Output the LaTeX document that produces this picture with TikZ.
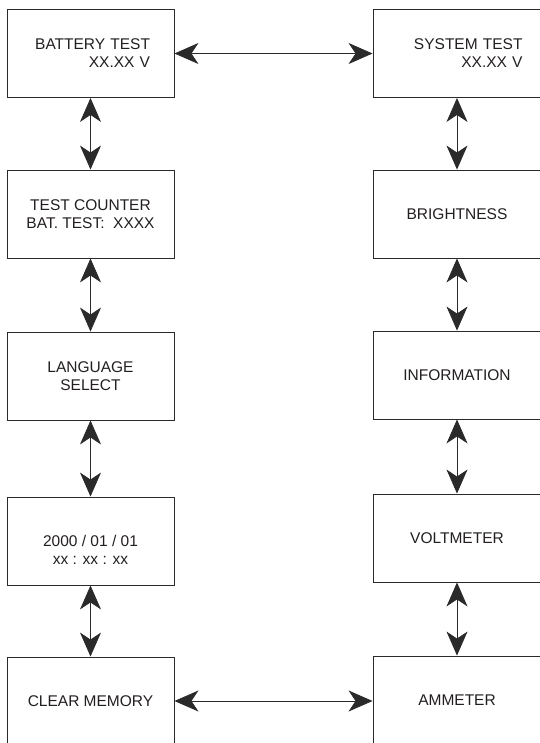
\documentclass[tikz,border=0pt]{standalone}
\usepackage{fontspec}
\setmainfont{Liberation Sans}
\usepackage{tikz}
\usetikzlibrary{arrows.meta,positioning,calc}
\definecolor{mnline}{HTML}{2a2a2a}
\definecolor{mntext}{HTML}{231f20}

\begin{document}
\begin{tikzpicture}[
  x=1bp, y=-1bp,
  font=\fontsize{15.5bp}{18bp}\selectfont,
  menu/.style={draw=mnline, line width=0.9bp, text=mntext, align=center,
               minimum width=167bp, minimum height=88bp, inner sep=0pt},
  link/.style={<->, mnline, line width=0.8bp},
  >={Stealth[length=24bp, width=21bp, inset=7bp]}]
\useasboundingbox (0,0) rectangle (540,743);

% ---------------- Left column ----------------
\node[menu, align=right, text width=119bp] (bat)  at (90.5, 53.5) {BATTERY TEST\\XX.XX V};
\node[menu] (cnt)  at (90.5, 214) {TEST COUNTER\\BAT. TEST:\ \ XXXX};
\node[menu] (lang) at (90.5, 376) {LANGUAGE\\SELECT};
\node[menu] (date) at (90.5, 541) {\rule{0pt}{29bp}2000 / 01 / 01\\xx : xx : xx};
\node[menu] (clr)  at (90.5, 701) {CLEAR MEMORY};

% ---------------- Right column ----------------
\node[menu, minimum width=168bp, align=right, text width=131bp] (sys) at (457, 53.5) {SYSTEM TEST\\XX.XX V};
\node[menu, minimum width=168bp] (bri) at (457, 214) {BRIGHTNESS};
\node[menu, minimum width=168bp] (inf) at (457, 375) {INFORMATION};
\node[menu, minimum width=168bp] (vlt) at (457, 538) {VOLTMETER};
\node[menu, minimum width=168bp] (amm) at (457, 700) {AMMETER};

% links
\foreach \a/\b in {bat/cnt, cnt/lang, lang/date, date/clr,
                   sys/bri, bri/inf, inf/vlt, vlt/amm}{
  \draw[link] (\a) -- (\b);}
\draw[link] (bat) -- (sys);
\draw[link] (clr) -- (clr -| amm.west);
\end{tikzpicture}
\end{document}
